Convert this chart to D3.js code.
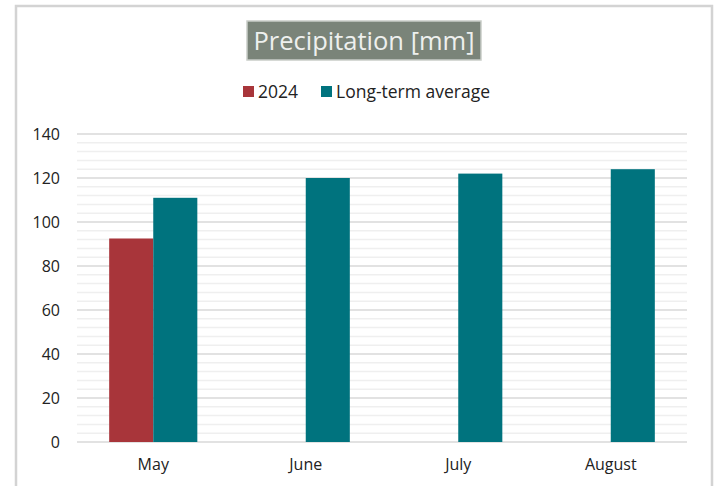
<!DOCTYPE html>
<html><head><meta charset="utf-8">
<script src="https://cdn.jsdelivr.net/npm/d3@7"></script>
<style>body{margin:0;background:#fff;}svg{display:block;font-family:"Open Sans",sans-serif;}</style>
</head><body><svg id="c" width="717" height="486"></svg>
<script>
const categories = ["May","June","July","August"];
const seriesNames = ["2024","Long-term average"];
const values2024 = [92.5, null, null, null];
const valuesAvg = [111, 120, 122, 124];
const yTicks = [0,20,40,60,80,100,120,140];
const colors = ["#a8353a","#00737e"];

const svg = d3.select("#c");
// frame
svg.append("path").attr("d","M16,490 V6 H712 V490").attr("fill","none").attr("stroke","#d3d3d3").attr("stroke-width",2.5);

const x = d3.scaleBand().domain(categories).range([77,687]).paddingInner(0).paddingOuter(0);
const x1 = d3.scaleBand().domain(seriesNames).range([0,x.bandwidth()]).paddingInner(0).paddingOuter(0.73);
const y = d3.scaleLinear().domain([0,140]).range([442,134]);

// minor grid
const minor = d3.range(0,141,4).filter(v=>v%20!==0);
svg.append("g").selectAll("line").data(minor).join("line")
  .attr("x1",77).attr("x2",687).attr("y1",d=>y(d)).attr("y2",d=>y(d))
  .attr("stroke","#efefef").attr("stroke-width",1.5);
// major grid
svg.append("g").selectAll("line").data(yTicks).join("line")
  .attr("x1",77).attr("x2",687).attr("y1",d=>y(d)).attr("y2",d=>y(d))
  .attr("stroke","#d9d9d9").attr("stroke-width",1.5);

// y labels
const yAxis = d3.axisLeft(y).tickValues(yTicks).tickSize(0).tickPadding(0);
const gy = svg.append("g").attr("transform","translate(60,0)").call(yAxis);
gy.select(".domain").remove();
gy.selectAll("text").attr("font-size",16).attr("fill","#222").attr("font-family","'Open Sans',sans-serif");

// x labels
const xAxis = d3.axisBottom(x).tickSize(0).tickPadding(0);
const gx = svg.append("g").attr("transform","translate(0,459)").call(xAxis);
gx.select(".domain").remove();
gx.selectAll("text").attr("font-size",16).attr("fill","#222").attr("font-family","'Open Sans',sans-serif");

// bars
const series = [values2024, valuesAvg];
series.forEach((vals,si)=>{
  svg.append("g").selectAll("rect").data(categories.map((c,i)=>({c,v:vals[i]})).filter(d=>d.v!=null)).join("rect")
    .attr("x",d=>x(d.c)+x1(seriesNames[si]))
    .attr("width",x1.bandwidth())
    .attr("y",d=>y(d.v)).attr("height",d=>y(0)-y(d.v))
    .attr("fill",colors[si]);
});

// title
const tg = svg.append("g");
tg.append("rect").attr("x",247).attr("y",21).attr("width",234).attr("height",39)
  .attr("fill","#7a8479").attr("stroke","#c9cdc8").attr("stroke-width",1.5);
tg.append("text").attr("x",364).attr("y",50).attr("text-anchor","middle")
  .attr("font-size",25.5).attr("fill","#eef0ee").text("Precipitation [mm]");

// legend
const leg = svg.append("g");
const legX = [243, 321];
seriesNames.forEach((n,i)=>{
  leg.append("rect").attr("x",legX[i]).attr("y",86).attr("width",11).attr("height",11).attr("fill",colors[i]);
  leg.append("text").attr("x",legX[i]+15).attr("y",98).attr("font-size",17.5).attr("fill","#222").text(n);
});
</script></body></html>
